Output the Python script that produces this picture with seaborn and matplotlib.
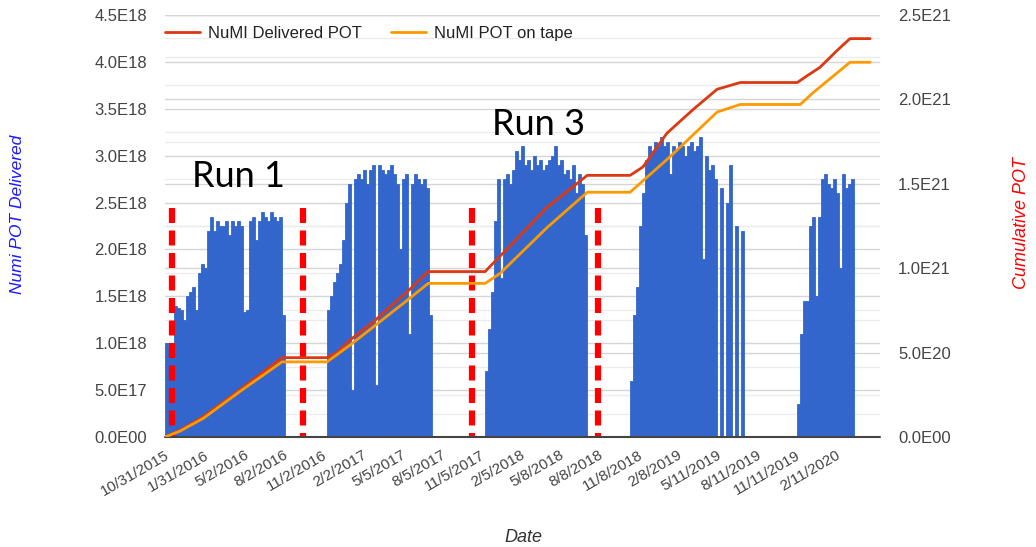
import numpy as np
import pandas as pd
import matplotlib
matplotlib.use("Agg")
import matplotlib.pyplot as plt
import matplotlib.ticker as mticker
import seaborn as sns

# weekly POT delivered per run period (units of 1E18), one value per 7 days
SEG_STARTS = ["2015-10-31", "2016-11-12", "2017-11-16", "2018-10-20", "2019-11-14"]
seg1 = [1.0, 0.95, 1.0, 1.4, 1.38, 1.35, 1.25, 1.5, 1.55, 1.6, 1.35, 1.75, 1.85, 1.8,
        2.2, 2.35, 2.2, 2.3, 2.25, 2.25, 2.3, 2.15, 2.3, 2.25, 2.3, 2.25, 1.33, 1.35,
        2.3, 2.35, 2.1, 2.3, 2.4, 2.35, 2.3, 2.4, 2.35, 2.3, 2.35, 1.3]
seg2 = [1.35, 1.5, 1.65, 1.75, 1.85, 2.1, 2.5, 2.7, 0.5, 2.75, 2.8, 2.75, 2.85, 2.7,
        2.85, 2.9, 0.55, 2.9, 2.85, 2.8, 2.85, 2.9, 2.8, 2.7, 2.0, 2.75, 2.8, 1.1,
        2.7, 2.8, 2.75, 2.7, 2.75, 2.65, 1.3]
seg3 = [0.7, 1.15, 1.55, 2.3, 2.75, 1.7, 2.75, 2.8, 2.7, 2.85, 3.05, 2.95, 3.1, 2.9,
        2.95, 2.85, 3.0, 2.9, 2.95, 2.85, 2.9, 2.95, 3.0, 3.1, 2.9, 2.95, 2.8, 2.85,
        2.75, 2.9, 2.6, 2.8, 2.7, 2.15]
seg4 = [0.6, 1.3, 1.6, 2.25, 2.6, 2.95, 3.1, 3.05, 3.15, 3.1, 3.2, 3.1, 3.15, 2.8,
        3.1, 3.05, 3.15, 3.1, 3.0, 3.1, 3.15, 3.05, 3.1, 3.2, 1.9, 3.0, 2.85, 2.9,
        2.75, 0, 2.65, 0, 2.5, 2.9, 0, 2.25, 0, 2.2]
seg5 = [0.35, 1.1, 1.45, 1.45, 2.25, 2.35, 1.5, 2.35, 2.75, 2.8, 2.7, 2.65, 2.75,
        2.6, 1.8, 2.8, 2.65, 2.7, 2.75]
SEGMENTS = [seg1, seg2, seg3, seg4, seg5]

# cumulative POT (units of 1E21)
delivered_dates = ["2015-10-31", "2015-12-05", "2016-01-28", "2016-04-23", "2016-07-30",
                   "2016-11-12", "2016-12-05", "2017-01-05", "2017-02-27", "2017-05-18",
                   "2017-07-06", "2017-11-16", "2017-11-27", "2018-01-20", "2018-04-09",
                   "2018-07-12", "2018-10-20", "2018-11-19", "2019-01-14", "2019-03-16",
                   "2019-05-11", "2019-07-04", "2019-11-14", "2019-12-07", "2020-01-06",
                   "2020-02-15", "2020-03-16", "2020-05-02"]
delivered = [0, 0.04, 0.12, 0.28, 0.47, 0.47, 0.50, 0.575, 0.68, 0.86,
             0.98, 0.98, 1.01, 1.15, 1.36, 1.55, 1.55, 1.60, 1.80, 1.94,
             2.06, 2.10, 2.10, 2.14, 2.19, 2.29, 2.36, 2.36]
tape_dates = ["2015-10-31", "2015-12-05", "2016-01-28", "2016-04-23", "2016-07-30",
              "2016-11-12", "2017-01-05", "2017-02-27", "2017-05-18", "2017-07-06",
              "2017-11-16", "2017-12-21", "2018-04-09", "2018-07-12", "2018-10-20",
              "2019-01-21", "2019-05-11", "2019-07-04", "2019-11-21", "2019-12-21",
              "2020-03-16", "2020-05-02"]
on_tape = [0, 0.035, 0.11, 0.27, 0.445, 0.445, 0.545, 0.65, 0.81, 0.91,
           0.91, 0.97, 1.24, 1.45, 1.45, 1.66, 1.925, 1.97, 1.97, 2.04,
           2.22, 2.22]

TICK_DATES = ["10/31/2015", "1/31/2016", "5/2/2016", "8/2/2016", "11/2/2016", "2/2/2017",
              "5/5/2017", "8/5/2017", "11/5/2017", "2/5/2018", "5/8/2018", "8/8/2018",
              "11/8/2018", "2/8/2019", "5/11/2019", "8/11/2019", "11/11/2019", "2/11/2020"]

RUN_LINE_DATES = ["2015-11-16", "2016-09-17", "2017-10-16", "2018-08-06"]
RUN_LINE_TOP = 2.44
RUN_LABELS = ["Run 1", "Run 3"]
RUN_LABEL_DATES = ["2016-01-02", "2017-12-02"]
RUN_LABEL_Y = [2.67, 3.22]

L_MAX, R_MAX = 4.5e18, 2.5e21

sns.set_theme(style="white")
plt.rcParams["font.family"] = ["Liberation Sans", "DejaVu Sans"]

bars = []
for start, vals in zip(SEG_STARTS, SEGMENTS):
    d = pd.date_range(start, periods=len(vals), freq="7D")
    bars.append(pd.DataFrame({"date": d, "pot": np.array(vals) * 1e18}))
bars = pd.concat(bars, ignore_index=True)

fig = plt.figure(figsize=(10.36, 5.47), dpi=100)
ax = fig.add_axes([165 / 1036, 1 - 437 / 547, 715 / 1036, 422 / 547])
ax2 = ax.twinx()

# gridlines for both scales, under the bars
for v in np.arange(0.25, 4.5, 0.5):
    ax.axhline(v * 1e18, color="#ececec", lw=1, zorder=0)
for v in np.arange(0.25, 2.5, 0.5):
    ax.axhline(v * 1e21 * L_MAX / R_MAX, color="#ececec", lw=1, zorder=0)
for v in np.arange(0.5, 4.6, 0.5):
    ax.axhline(v * 1e18, color="#d6d6d6", lw=1, zorder=0)
for v in np.arange(0.5, 2.6, 0.5):
    ax.axhline(v * 1e21 * L_MAX / R_MAX, color="#d6d6d6", lw=1, zorder=0)

ax.bar(bars["date"], bars["pot"], width=7, align="edge", color="#3366cc",
       edgecolor="#3366cc", linewidth=0.6, zorder=2)

for d in RUN_LINE_DATES:
    ax.plot([pd.Timestamp(d)] * 2, [RUN_LINE_TOP * 1e18, 0], color="#ff0000", lw=4.5,
            linestyle=(0, (2.4, 1.2)), solid_capstyle="butt", dash_capstyle="butt",
            zorder=3, clip_on=False)

for lab, d, y in zip(RUN_LABELS, RUN_LABEL_DATES, RUN_LABEL_Y):
    ax.text(pd.Timestamp(d), y * 1e18, lab, fontsize=26, family=["Lato", "DejaVu Sans"],
            color="black", va="baseline", ha="left", zorder=4)

sns.lineplot(x=pd.to_datetime(delivered_dates), y=np.array(delivered) * 1e21, ax=ax2,
             color="#dc3912", linewidth=2, label="NuMI Delivered POT")
sns.lineplot(x=pd.to_datetime(tape_dates), y=np.array(on_tape) * 1e21, ax=ax2,
             color="#ff9900", linewidth=2, label="NuMI POT on tape")

ax.set_ylim(0, L_MAX)
ax2.set_ylim(0, R_MAX)
ax.set_xlim(pd.Timestamp("2015-10-31"), pd.Timestamp("2020-05-25"))

def sci(v, pos):
    return f"{v:.1E}".replace("E+", "E")

ax.set_yticks(np.arange(0, 4.51e18, 0.5e18))
ax2.set_yticks(np.arange(0, 2.51e21, 0.5e21))
ax.yaxis.set_major_formatter(mticker.FuncFormatter(sci))
ax2.yaxis.set_major_formatter(mticker.FuncFormatter(sci))
ax.tick_params(axis="y", length=0, pad=13, labelsize=12, labelcolor="#444444")
ax2.tick_params(axis="y", length=0, pad=13, labelsize=12, labelcolor="#444444")

ticks = pd.to_datetime(TICK_DATES, format="%m/%d/%Y")
ax.set_xticks(ticks)
ax.set_xticklabels(TICK_DATES, rotation=30, ha="right", rotation_mode="anchor")
ax.tick_params(axis="x", length=0, pad=8, labelsize=11, labelcolor="#444444")

for a in (ax, ax2):
    for s in ("top", "left", "right", "bottom"):
        a.spines[s].set_visible(False)
    a.grid(False)
    a.set_xlabel("")
    a.set_ylabel("")
ax.axhline(0, color="#444444", lw=1.5, zorder=5, clip_on=False)

h, l = ax2.get_legend_handles_labels()
ax2.legend(h, l, loc="center left", bbox_to_anchor=(0, 0.957), ncol=2, frameon=False,
           fontsize=12, handlelength=2.1, handletextpad=0.45, columnspacing=1.8,
           borderpad=0, borderaxespad=0, labelcolor="#222222")

fig.text(18 / 1036, 1 - 214 / 547, "Numi POT Delivered", rotation=90, ha="center",
         va="center", fontsize=12.5, style="italic", color="#1a1aff")
fig.text(1022 / 1036, 1 - 223 / 547, "Cumulative POT", rotation=90, ha="center",
         va="center", fontsize=13, style="italic", color="#ff0000")
fig.text(523 / 1036, 1 - 538 / 547, "Date", ha="center", va="center", fontsize=13,
         style="italic", color="#333333")

fig.savefig("out.png", dpi=100)
